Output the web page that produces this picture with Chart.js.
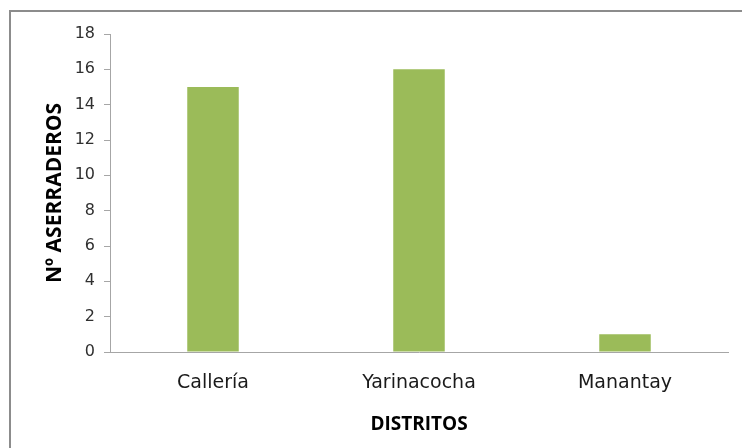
<!DOCTYPE html>
<html>
<head>
<meta charset="utf-8">
<script src="https://cdn.jsdelivr.net/npm/chart.js@4"></script>
<style>
  html, body { margin: 0; padding: 0; background: #ffffff; overflow: hidden; }
  #frame { position: absolute; left: 9px; top: 10px; width: 800px; height: 500px; border: 2px solid #8c8c8c; }
  #wrap { position: absolute; left: 0; top: 0; width: 742px; height: 448px; }
</style>
</head>
<body>
<div id="frame"></div>
<div id="wrap"><canvas id="barChart" width="742" height="448"></canvas></div>
<script>
const distritos = ['Callería', 'Yarinacocha', 'Manantay'];
const aserraderos = [15, 16, 1];
const yMin = 0, yMax = 18, yStep = 2;

ctx = document.getElementById('barChart').getContext('2d');
Chart.defaults.font.family = "'DejaVu Sans', sans-serif";
Chart.defaults.color = '#262626';

barChart = new Chart(ctx, {
    type: 'bar',
    data: {
        labels: distritos,
        datasets: [
            { label: 'Nº Aserraderos', data: aserraderos, backgroundColor: '#9bbb59', borderWidth: 0,
              barPercentage: 0.25, categoryPercentage: 1.0 }
        ]
    },
    options: {
        responsive: false,
        animation: false,
        layout: { padding: { left: 0, right: 14, top: 34, bottom: 0 } },
        plugins: { legend: { display: false }, tooltip: { enabled: false } },
        scales: {
            x: {
                grid: { display: false, drawTicks: false },
                border: { color: '#a6a6a6', width: 1 },
                ticks: { font: { size: 19 }, padding: 20, color: '#1a1a1a' },
                title: { display: true, text: 'DISTRITOS', font: { family: "'Open Sans', sans-serif", size: 19, weight: 'bold' }, color: '#000000', padding: { top: 0, bottom: 12 } },
                afterFit: function (scale) { scale.height = 96; }
            },
            y: {
                min: yMin, max: yMax,
                grid: { display: true, drawOnChartArea: false, tickLength: 6, color: '#a6a6a6' },
                border: { color: '#a6a6a6', width: 1 },
                ticks: { stepSize: yStep, font: { size: 16 }, padding: 9, color: '#303030' },
                title: { display: true, text: 'Nº ASERRADEROS', font: { family: "'Open Sans', sans-serif", size: 21, weight: 'bold' }, color: '#000000', padding: { top: 42, bottom: 0 } },
                afterFit: function (scale) { scale.width = 110; }
            }
        }
    }
});
</script>
</body>
</html>
